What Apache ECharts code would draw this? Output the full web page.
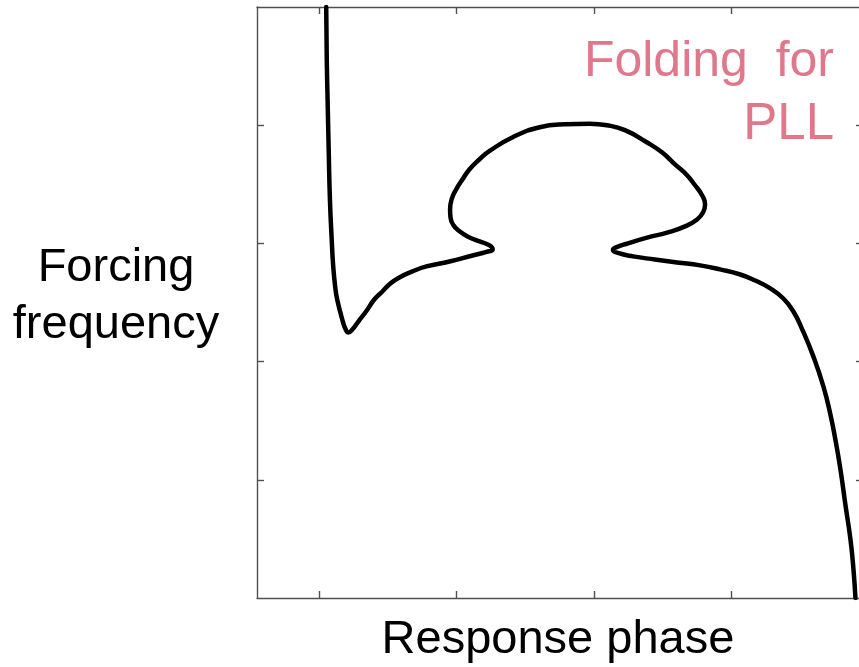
<!DOCTYPE html>
<html>
<head>
<meta charset="utf-8">
<style>
  html, body { margin: 0; padding: 0; background: #fff; }
  #chart { width: 859px; height: 667px; }
</style>
<script src="https://cdn.jsdelivr.net/npm/echarts@6/dist/echarts.min.js"></script>
</head>
<body>
<div id="chart"></div>
<script>
// Response curve: phase (x) and forcing frequency (y), traced along the branch
const responsePhase = [
  1.051, 1.055, 1.061, 1.069, 1.078, 1.091, 1.102, 1.117, 1.131, 1.168,
  1.193, 1.212, 1.241, 1.285, 1.341, 1.401, 1.460, 1.518, 1.584, 1.679,
  1.781, 1.949, 2.117, 2.219, 2.263, 2.241, 2.168, 2.080, 2.022, 1.978,
  1.956, 1.953, 1.964, 1.998, 2.044, 2.095, 2.168, 2.241, 2.409, 2.606,
  2.788, 2.971, 3.095, 3.226, 3.385, 3.496, 3.591, 3.672, 3.737, 3.788,
  3.810, 3.796, 3.752, 3.664, 3.540, 3.394, 3.248, 3.161, 3.139, 3.175,
  3.285, 3.445, 3.606, 3.774, 3.920, 4.066, 4.175, 4.285, 4.380, 4.453,
  4.518, 4.599, 4.672, 4.723, 4.759, 4.796, 4.832, 4.869, 4.891, 4.905
];
const forcingFrequency = [
  5.000, 4.559, 4.220, 3.797, 3.373, 3.034, 2.805, 2.627, 2.525, 2.356,
  2.271, 2.246, 2.271, 2.339, 2.424, 2.525, 2.593, 2.661, 2.712, 2.763,
  2.805, 2.847, 2.898, 2.928, 2.949, 2.983, 3.017, 3.059, 3.102, 3.153,
  3.220, 3.288, 3.373, 3.458, 3.542, 3.627, 3.712, 3.782, 3.898, 3.983,
  4.008, 4.013, 4.000, 3.958, 3.856, 3.771, 3.669, 3.585, 3.492, 3.407,
  3.331, 3.263, 3.203, 3.144, 3.093, 3.051, 3.000, 2.966, 2.945, 2.919,
  2.890, 2.864, 2.839, 2.814, 2.780, 2.737, 2.686, 2.619, 2.534, 2.424,
  2.271, 2.042, 1.788, 1.551, 1.339, 1.085, 0.788, 0.492, 0.237, 0.000
];

// Axis extents and tick positions (no tick labels are shown)
const phaseRange = [0.547, 4.96];
const freqRange = [0, 5];
const phaseTicks = [1, 2, 3, 4];
const freqTicks = [1, 2, 3, 4];

const FONT = '"Liberation Sans", Arial, sans-serif';
const AXIS_COLOR = '#505050';

function boxAxis(position, range, ticks) {
  return {
    type: 'value',
    position: position,
    min: range[0],
    max: range[1],
    splitLine: { show: false },
    axisLine: { show: true, onZero: false, lineStyle: { color: AXIS_COLOR, width: 1.4 } },
    axisTick: { show: true, inside: true, length: 7, customValues: ticks,
                lineStyle: { color: AXIS_COLOR, width: 1.4 } },
    axisLabel: { show: false }
  };
}

const chart = echarts.init(document.getElementById('chart'), null, { renderer: 'canvas' });

chart.setOption({
  backgroundColor: '#ffffff',
  animation: false,
  // the frame runs slightly past the right edge of the page
  grid: { left: 257, top: 7, width: 606, height: 591, outerBoundsMode: 'none' },
  xAxis: [boxAxis('bottom', phaseRange, phaseTicks), boxAxis('top', phaseRange, phaseTicks)],
  yAxis: [boxAxis('left', freqRange, freqTicks), boxAxis('right', freqRange, freqTicks)],
  series: [{
    type: 'line',
    xAxisIndex: 0,
    yAxisIndex: 0,
    data: responsePhase.map((p, i) => [p, forcingFrequency[i]]),
    showSymbol: false,
    smooth: 0.5,
    lineStyle: { color: '#000000', width: 4.5, join: 'round', cap: 'round' },
    clip: true
  }],
  graphic: [
    { type: 'text', x: 116, y: 268, style: { text: 'Forcing', font: '47px ' + FONT, fill: '#000', align: 'center', verticalAlign: 'middle' } },
    { type: 'text', x: 116, y: 325, style: { text: 'frequency', font: '47px ' + FONT, fill: '#000', align: 'center', verticalAlign: 'middle' } },
    { type: 'text', x: 558, y: 640, style: { text: 'Response phase', font: '47px ' + FONT, fill: '#000', align: 'center', verticalAlign: 'middle' } },
    { type: 'text', x: 834, y: 62, style: { text: 'Folding  for', font: '50px ' + FONT, fill: '#E0788C', align: 'right', verticalAlign: 'middle' } },
    { type: 'text', x: 834, y: 125, style: { text: 'PLL', font: '51px ' + FONT, fill: '#E0788C', align: 'right', verticalAlign: 'middle' } }
  ]
});
</script>
</body>
</html>
